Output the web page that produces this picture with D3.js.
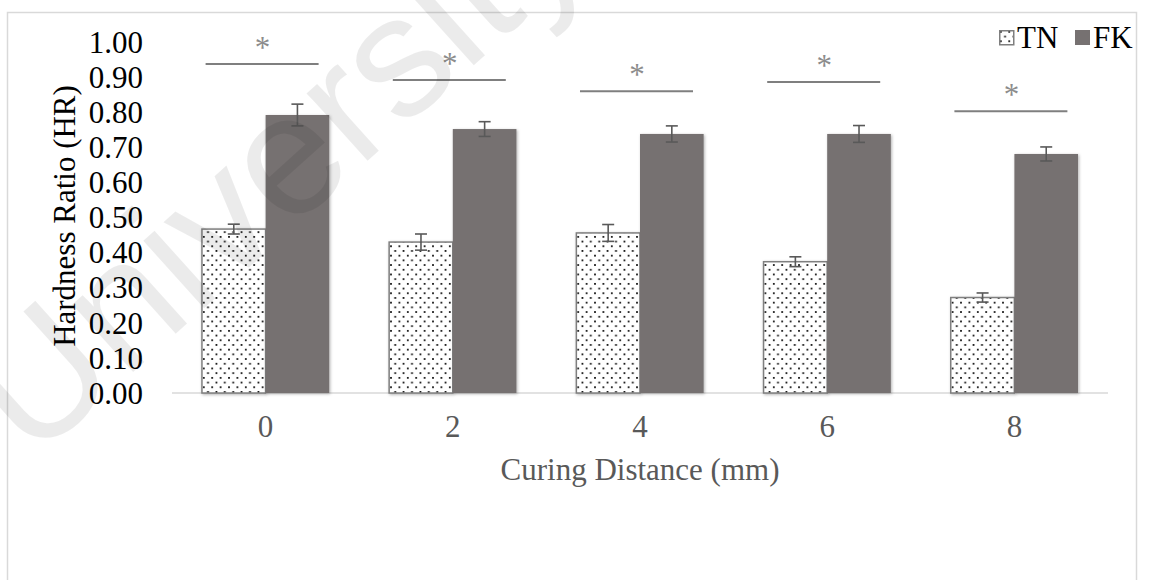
<!DOCTYPE html>
<html>
<head>
<meta charset="utf-8">
<script src="https://cdn.jsdelivr.net/npm/d3@7"></script>
<style>
  body { margin: 0; background: #fff; }
  svg { display: block; }
</style>
</head>
<body>
<div id="chart"></div>
<script>
// Data
const categories = ["0", "2", "4", "6", "8"];
const seriesNames = ["TN", "FK"];
const tnValues = [0.467, 0.430, 0.456, 0.374, 0.272];
const fkValues = [0.792, 0.752, 0.738, 0.738, 0.681];
const tnErrors = [0.014, 0.023, 0.024, 0.014, 0.013];
const fkErrors = [0.031, 0.021, 0.023, 0.024, 0.020];
const sigHeights = [0.937, 0.892, 0.860, 0.886, 0.803];
const yTicks = [0, 0.1, 0.2, 0.3, 0.4, 0.5, 0.6, 0.7, 0.8, 0.9, 1.0];

const width = 1149, height = 580;
const font = "'Liberation Serif', 'Times New Roman', serif";

const svg = d3.select("#chart").append("svg")
    .attr("width", width)
    .attr("height", height);

const defs = svg.append("defs");

// dotted fill used for TN bars
const pat = defs.append("pattern")
    .attr("id", "dots")
    .attr("patternUnits", "userSpaceOnUse")
    .attr("width", 8.4)
    .attr("height", 9.4);
pat.append("rect").attr("width", 8.4).attr("height", 9.4).attr("fill", "#fff");
pat.append("rect").attr("x", 1).attr("y", 1).attr("width", 1.7).attr("height", 1.7).attr("fill", "#000");
pat.append("rect").attr("x", 5.2).attr("y", 5.7).attr("width", 1.7).attr("height", 1.7).attr("fill", "#000");

const shadow = defs.append("filter").attr("id", "shadow")
    .attr("x", "-20%").attr("y", "-20%").attr("width", "140%").attr("height", "140%");
shadow.append("feDropShadow")
    .attr("dx", 1).attr("dy", 1).attr("stdDeviation", 1.8)
    .attr("flood-color", "#000").attr("flood-opacity", 0.3);

// chart frame
svg.append("rect")
    .attr("x", 7.5).attr("y", 12.5)
    .attr("width", 1129).attr("height", 620)
    .attr("fill", "#fff")
    .attr("stroke", "#d9d9d9")
    .attr("stroke-width", 1.5);

// scales
const x = d3.scaleBand()
    .domain(categories)
    .range([172, 1108])
    .paddingInner(0.32)
    .paddingOuter(0.16);

const xSub = d3.scaleBand()
    .domain(seriesNames)
    .range([0, x.bandwidth()]);

const y = d3.scaleLinear()
    .domain([0, 1])
    .range([393, 42]);

// baseline
svg.append("line")
    .attr("x1", x.range()[0]).attr("x2", x.range()[1])
    .attr("y1", y(0)).attr("y2", y(0))
    .attr("stroke", "#d9d9d9")
    .attr("stroke-width", 1.5);

// y axis labels
const yAxis = d3.axisLeft(y)
    .tickValues(yTicks)
    .tickFormat(d3.format(".2f"))
    .tickSize(0)
    .tickPadding(0);

const yG = svg.append("g")
    .attr("transform", "translate(143,0)")
    .call(yAxis);
yG.select(".domain").remove();
yG.selectAll("text")
    .attr("font-family", font)
    .attr("font-size", 31)
    .attr("fill", "#000")
    .attr("dy", "0.33em");

// x axis labels
const xAxis = d3.axisBottom(x).tickSize(0).tickPadding(0);
const xG = svg.append("g")
    .attr("transform", "translate(0,415)")
    .call(xAxis);
xG.select(".domain").remove();
xG.selectAll("text")
    .attr("font-family", font)
    .attr("font-size", 31)
    .attr("fill", "#595959")
    .attr("dy", "0.71em");

// axis titles
svg.append("text")
    .attr("x", (x.range()[0] + x.range()[1]) / 2)
    .attr("y", 480)
    .attr("text-anchor", "middle")
    .attr("font-family", font)
    .attr("font-size", 31)
    .attr("fill", "#595959")
    .text("Curing Distance (mm)");

svg.append("text")
    .attr("transform", "translate(75,216) rotate(-90)")
    .attr("text-anchor", "middle")
    .attr("font-family", font)
    .attr("font-size", 31)
    .attr("fill", "#000")
    .text("Hardness Ratio (HR)");

// bars
const rows = categories.map((c, i) => ({
    cat: c,
    bars: [
        { key: "TN", value: tnValues[i], err: tnErrors[i] },
        { key: "FK", value: fkValues[i], err: fkErrors[i] }
    ],
    sig: sigHeights[i]
}));

const groups = svg.append("g").selectAll("g")
    .data(rows)
    .join("g")
    .attr("transform", d => `translate(${x(d.cat)},0)`);

groups.selectAll("rect")
    .data(d => d.bars)
    .join("rect")
    .attr("x", d => xSub(d.key))
    .attr("y", d => y(d.value))
    .attr("width", xSub.bandwidth())
    .attr("height", d => y(0) - y(d.value))
    .attr("fill", d => d.key === "TN" ? "url(#dots)" : "#767171")
    .attr("stroke", d => d.key === "TN" ? "#7f7f7f" : "none")
    .attr("stroke-width", 1.5)
    .attr("filter", "url(#shadow)");

// error bars
const errG = groups.selectAll("g.err")
    .data(d => d.bars)
    .join("g")
    .attr("class", "err")
    .attr("transform", d => `translate(${xSub(d.key) + xSub.bandwidth() / 2},0)`)
    .attr("stroke", "#595959")
    .attr("stroke-width", 1.6);
errG.append("line")
    .attr("y1", d => y(d.value + d.err)).attr("y2", d => y(d.value - d.err));
errG.append("line")
    .attr("x1", -6).attr("x2", 6)
    .attr("y1", d => y(d.value + d.err)).attr("y2", d => y(d.value + d.err));
errG.append("line")
    .attr("x1", -6).attr("x2", 6)
    .attr("y1", d => y(d.value - d.err)).attr("y2", d => y(d.value - d.err));

// significance lines and stars
groups.append("line")
    .attr("x1", x.bandwidth() / 2 - 60)
    .attr("x2", x.bandwidth() / 2 + 53)
    .attr("y1", d => y(d.sig))
    .attr("y2", d => y(d.sig))
    .attr("stroke", "#7f7f7f")
    .attr("stroke-width", 2);

groups.append("text")
    .attr("x", x.bandwidth() / 2 - 3)
    .attr("y", d => y(d.sig) - 6)
    .attr("text-anchor", "middle")
    .attr("font-family", font)
    .attr("font-size", 31)
    .attr("fill", "#8c8c8c")
    .text("*");

// legend
const legend = svg.append("g").attr("transform", "translate(999,30)");
legend.append("rect")
    .attr("x", 0.75).attr("y", 0.75).attr("width", 14).attr("height", 14)
    .attr("fill", "url(#dots)").attr("stroke", "#7f7f7f").attr("stroke-width", 1.5);
legend.append("text")
    .attr("x", 18).attr("y", 18)
    .attr("font-family", font).attr("font-size", 31).attr("fill", "#000")
    .text("TN");
legend.append("rect")
    .attr("x", 76).attr("y", 0).attr("width", 15).attr("height", 15)
    .attr("fill", "#767171");
legend.append("text")
    .attr("x", 94).attr("y", 18)
    .attr("font-family", font).attr("font-size", 31).attr("fill", "#000")
    .text("FK");

// faint watermark across the figure
svg.append("text")
    .attr("transform", "translate(32,463) rotate(-42)")
    .attr("font-family", "'Liberation Sans', Arial, sans-serif")
    .attr("font-size", 172)
    .attr("fill", "#000")
    .attr("fill-opacity", 0.08)
    .attr("pointer-events", "none")
    .text("University");
</script>
</body>
</html>
